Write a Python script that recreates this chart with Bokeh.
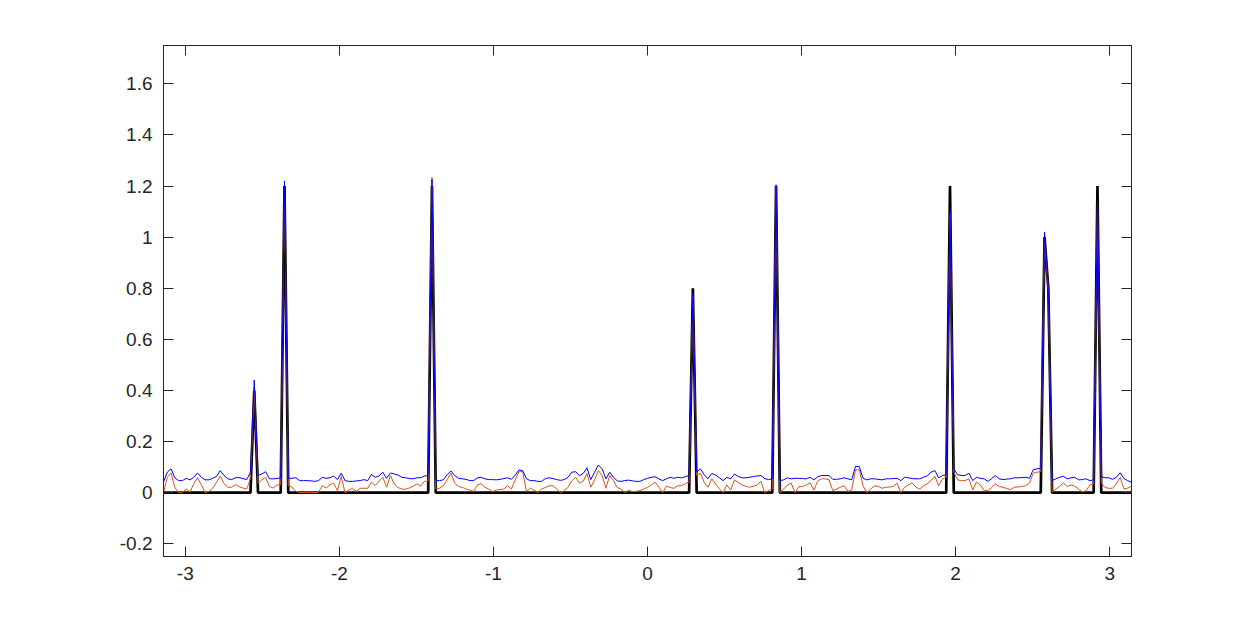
import numpy as np
from bokeh.plotting import figure
from bokeh.models import LinearAxis, FixedTicker, CustomJSTickFormatter, Range1d
from bokeh.embed import file_html
from bokeh.resources import INLINE

# ---------------- data ----------------
n_samples = 257
x_ticks = [-3, -2, -1, 0, 1, 2, 3]
y_ticks = [-0.2, 0, 0.2, 0.4, 0.6, 0.8, 1, 1.2, 1.4, 1.6]

# true sparse signal: positions (sample index) and heights
spike_index = [24, 32, 71, 140, 162, 208, 233, 234, 247]
spike_height = [0.4, 1.2, 1.2, 0.8, 1.2, 1.2, 1.0, 0.8, 1.2]

# blue estimate
estimate_blue = [
    0.041, 0.080, 0.093, 0.058, 0.047, 0.047, 0.056, 0.050, 0.060, 0.077,
    0.060, 0.050, 0.050, 0.056, 0.063, 0.086, 0.067, 0.054, 0.051, 0.058,
    0.059, 0.055, 0.051, 0.080, 0.440, 0.067, 0.073, 0.082, 0.054, 0.054,
    0.055, 0.058, 1.220, 0.056, 0.056, 0.058, 0.047, 0.047, 0.047, 0.046,
    0.044, 0.047, 0.060, 0.056, 0.058, 0.065, 0.051, 0.076, 0.047, 0.044,
    0.044, 0.046, 0.047, 0.051, 0.047, 0.071, 0.060, 0.065, 0.080, 0.056,
    0.077, 0.073, 0.069, 0.060, 0.058, 0.055, 0.054, 0.058, 0.058, 0.065,
    0.067, 1.225, 0.047, 0.047, 0.050, 0.070, 0.085, 0.067, 0.056, 0.054,
    0.052, 0.047, 0.047, 0.058, 0.060, 0.054, 0.051, 0.051, 0.050, 0.052,
    0.055, 0.058, 0.052, 0.068, 0.089, 0.086, 0.054, 0.047, 0.047, 0.044,
    0.044, 0.055, 0.058, 0.055, 0.051, 0.048, 0.051, 0.060, 0.080, 0.082,
    0.066, 0.075, 0.097, 0.051, 0.080, 0.108, 0.093, 0.054, 0.080, 0.060,
    0.046, 0.044, 0.047, 0.049, 0.046, 0.044, 0.044, 0.051, 0.056, 0.060,
    0.062, 0.054, 0.047, 0.054, 0.060, 0.056, 0.060, 0.058, 0.062, 0.067,
    0.780, 0.080, 0.093, 0.070, 0.054, 0.075, 0.069, 0.058, 0.047, 0.060,
    0.054, 0.073, 0.063, 0.058, 0.058, 0.060, 0.063, 0.065, 0.067, 0.055,
    0.051, 0.054, 1.205, 0.047, 0.050, 0.058, 0.054, 0.056, 0.056, 0.055,
    0.054, 0.060, 0.050, 0.062, 0.067, 0.067, 0.067, 0.052, 0.052, 0.054,
    0.058, 0.054, 0.050, 0.103, 0.102, 0.056, 0.050, 0.054, 0.054, 0.052,
    0.050, 0.054, 0.054, 0.055, 0.056, 0.047, 0.060, 0.058, 0.055, 0.054,
    0.054, 0.060, 0.066, 0.080, 0.086, 0.058, 0.067, 0.070, 1.100, 0.093,
    0.070, 0.067, 0.067, 0.076, 0.047, 0.060, 0.056, 0.054, 0.044, 0.055,
    0.067, 0.054, 0.051, 0.053, 0.054, 0.058, 0.058, 0.059, 0.060, 0.056,
    0.090, 0.093, 0.095, 1.020, 0.800, 0.047, 0.054, 0.060, 0.064, 0.054,
    0.058, 0.060, 0.050, 0.051, 0.054, 0.047, 0.050, 1.145, 0.062, 0.058,
    0.058, 0.052, 0.060, 0.078, 0.055, 0.047, 0.040,
]

# orange estimate
estimate_orange = [
    0.000, 0.060, 0.077, 0.020, 0.000, 0.000, 0.014, 0.003, 0.035, 0.058,
    0.031, 0.000, 0.005, 0.017, 0.040, 0.064, 0.035, 0.021, 0.021, 0.031,
    0.023, 0.018, 0.014, 0.054, 0.410, 0.037, 0.050, 0.060, 0.024, 0.018,
    0.030, 0.030, 1.210, 0.027, 0.021, 0.005, 0.000, 0.001, 0.000, 0.001,
    0.000, 0.002, 0.027, 0.018, 0.030, 0.037, 0.008, 0.063, 0.000, 0.010,
    0.017, 0.005, 0.017, 0.017, 0.017, 0.041, 0.027, 0.045, 0.060, 0.021,
    0.067, 0.034, 0.020, 0.014, 0.013, 0.018, 0.025, 0.034, 0.026, 0.044,
    0.045, 1.235, 0.014, 0.017, 0.027, 0.050, 0.077, 0.037, 0.024, 0.021,
    0.014, 0.010, 0.005, 0.030, 0.035, 0.021, 0.014, 0.004, 0.010, 0.012,
    0.014, 0.027, 0.014, 0.050, 0.082, 0.082, 0.004, 0.017, 0.010, 0.000,
    0.014, 0.020, 0.027, 0.027, 0.014, 0.000, 0.008, 0.021, 0.047, 0.060,
    0.037, 0.045, 0.075, 0.021, 0.050, 0.086, 0.067, 0.017, 0.067, 0.047,
    0.020, 0.014, 0.000, 0.010, 0.004, 0.005, 0.008, 0.014, 0.021, 0.030,
    0.041, 0.021, 0.000, 0.025, 0.020, 0.017, 0.027, 0.027, 0.035, 0.041,
    0.770, 0.067, 0.076, 0.040, 0.021, 0.054, 0.034, 0.015, 0.000, 0.030,
    0.010, 0.050, 0.040, 0.030, 0.025, 0.021, 0.025, 0.030, 0.044, 0.000,
    0.008, 0.014, 1.200, 0.000, 0.014, 0.030, 0.037, 0.000, 0.023, 0.024,
    0.030, 0.038, 0.010, 0.045, 0.054, 0.054, 0.050, 0.008, 0.014, 0.021,
    0.027, 0.005, 0.010, 0.089, 0.089, 0.027, 0.000, 0.014, 0.026, 0.025,
    0.017, 0.021, 0.022, 0.024, 0.037, 0.000, 0.021, 0.030, 0.038, 0.021,
    0.014, 0.027, 0.035, 0.047, 0.064, 0.027, 0.054, 0.060, 1.090, 0.080,
    0.050, 0.047, 0.047, 0.054, 0.010, 0.041, 0.030, 0.008, 0.008, 0.020,
    0.034, 0.024, 0.021, 0.016, 0.012, 0.021, 0.022, 0.024, 0.027, 0.037,
    0.076, 0.080, 0.082, 1.000, 0.790, 0.002, 0.014, 0.025, 0.038, 0.024,
    0.030, 0.025, 0.014, 0.002, 0.008, 0.030, 0.035, 1.140, 0.037, 0.020,
    0.017, 0.017, 0.035, 0.060, 0.014, 0.018, 0.025,
]

# ---------------- build ----------------
x = np.linspace(-np.pi, np.pi, n_samples)
truth = np.zeros(n_samples)
truth[spike_index] = spike_height

AX = "#262626"
FONT = "Liberation Sans"

p = figure(
    x_range=Range1d(-np.pi, np.pi), y_range=Range1d(-0.25, 1.75),
    frame_width=968, frame_height=511,
    min_border_left=163, min_border_right=60,
    min_border_top=45, min_border_bottom=45,
    output_backend="svg", toolbar_location=None,
    background_fill_color="white", border_fill_color="white",
)
p.xgrid.visible = False
p.ygrid.visible = False
p.outline_line_color = AX
p.outline_line_width = 1

below = p.below[0]
left = p.left[0]

fmt = CustomJSTickFormatter(code="return String(Math.round(tick*10)/10);")
blank = CustomJSTickFormatter(code="return '';")

right = LinearAxis()
above = LinearAxis()
p.add_layout(right, "right")
p.add_layout(above, "above")

for ax in [below, above]:
    ax.ticker = FixedTicker(ticks=x_ticks)
for ax in [left, right]:
    ax.ticker = FixedTicker(ticks=y_ticks)

for ax in [below, left, right, above]:
    ax.axis_line_color = AX
    ax.axis_line_width = 1
    ax.major_tick_line_color = AX
    ax.major_tick_line_width = 1
    ax.major_tick_in = 10
    ax.major_tick_out = 0
    ax.minor_tick_line_color = None
    ax.major_label_text_font = FONT
    ax.major_label_text_font_size = "19px"
    ax.major_label_text_color = AX

for ax in [below, left]:
    ax.formatter = fmt
    ax.major_label_standoff = 11
below.major_label_standoff = 10
for ax in [right, above]:
    ax.formatter = blank
    ax.major_label_standoff = 0

p.line(x, truth, line_color="black", line_width=2.7)
p.line(x, estimate_orange, line_color="#D95319", line_width=1)
p.line(x, estimate_blue, line_color="#0000FF", line_width=1)

open("out.html", "w").write(file_html(p, INLINE))
